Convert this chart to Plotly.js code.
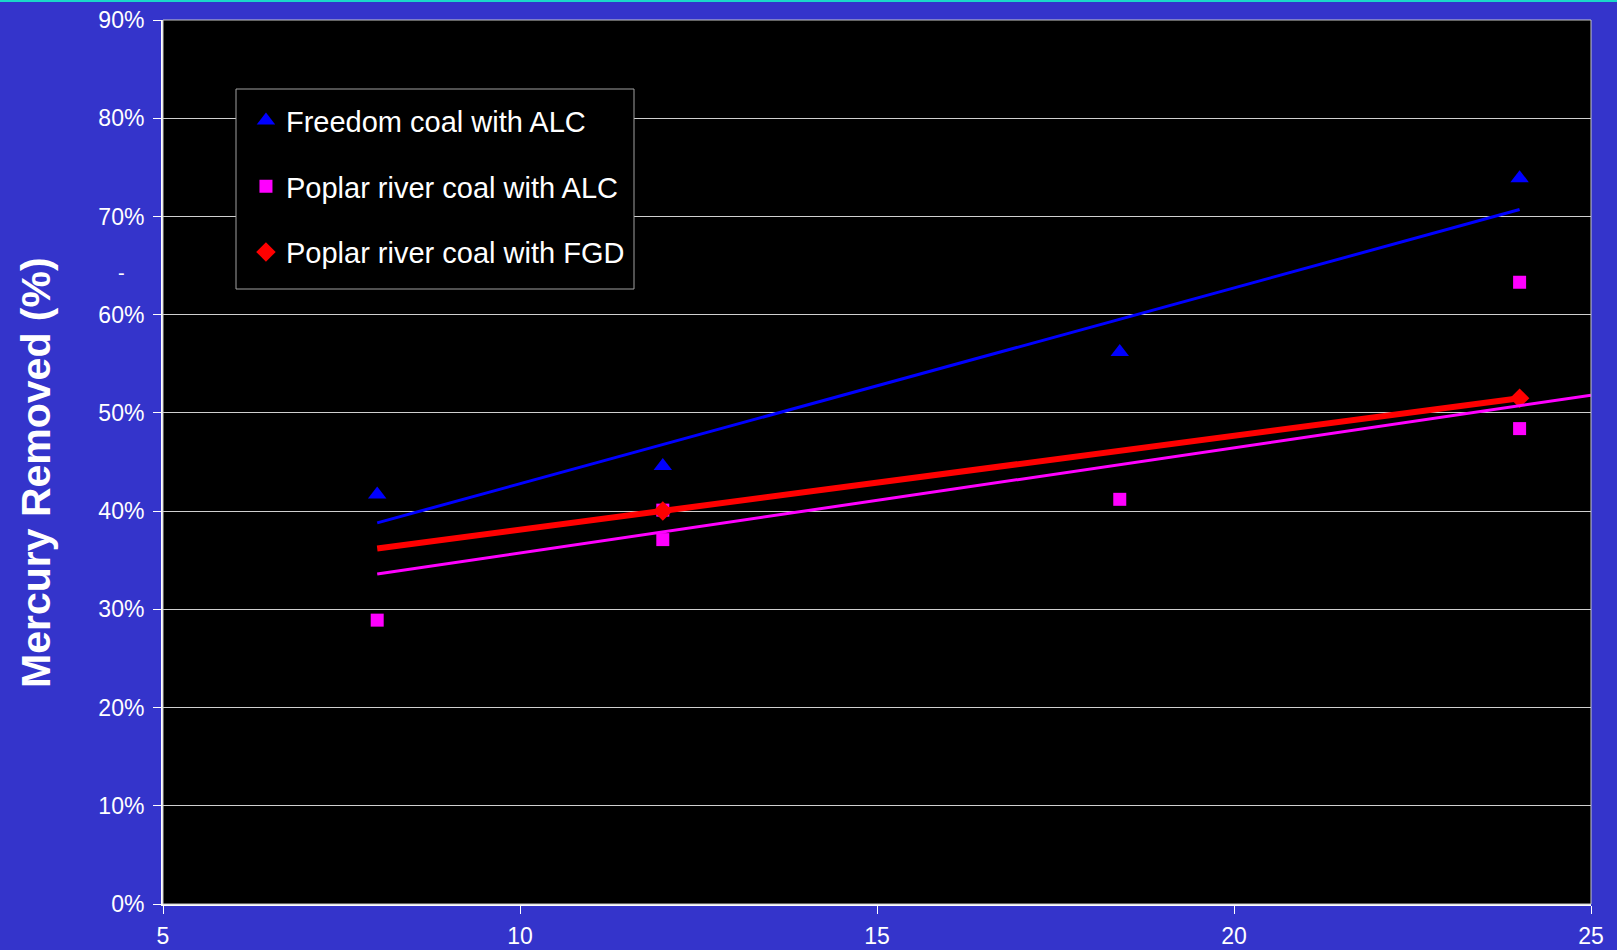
<!DOCTYPE html>
<html>
<head>
<meta charset="utf-8">
<script src="https://cdn.plot.ly/plotly-3.0.1.min.js"></script>
<style>
  html, body { margin: 0; padding: 0; background: #3434CB; }
  #chart { width: 1617px; height: 950px; }
</style>
</head>
<body>
<div id="chart"></div>
<script>
// ---- data ----
const seriesNames = ["Freedom coal with ALC", "Poplar river coal with ALC", "Poplar river coal with FGD"];

const freedomX = [8, 12, 18.4, 24];
const freedomY = [41.7, 44.6, 56.2, 73.9];

const poplarAlcX = [8, 12, 12, 18.4, 24, 24];
const poplarAlcY = [28.9, 37.1, 40.1, 41.2, 63.3, 48.4];

const poplarFgdX = [12, 24];
const poplarFgdY = [40.0, 51.5];

// linear trend lines (end points)
const freedomTrendX = [8, 24];
const freedomTrendY = [38.8, 70.7];
const poplarAlcTrendX = [8, 25];
const poplarAlcTrendY = [33.6, 51.8];
const poplarFgdTrendX = [8, 24];
const poplarFgdTrendY = [36.2, 51.5];

const yTickVals = [0, 10, 20, 30, 40, 50, 60, 70, 80, 90];
const xTickVals = [5, 10, 15, 20, 25];

const yTitle = "Mercury Removed (%)";

const FONT = "Liberation Sans, Arial, sans-serif";

const traces = [
  { x: poplarAlcX, y: poplarAlcY, mode: "markers", type: "scatter", name: seriesNames[1],
    legendgroup: "b", legendrank: 2,
    marker: { symbol: "square", size: 13, color: "#FF00FF", line: { width: 0 } } },
  { x: poplarFgdTrendX, y: poplarFgdTrendY, mode: "lines", type: "scatter", showlegend: false,
    line: { color: "#FF0000", width: 6 }, hoverinfo: "skip" },
  { x: poplarFgdX, y: poplarFgdY, mode: "markers", type: "scatter", name: seriesNames[2],
    legendgroup: "c", legendrank: 3,
    marker: { symbol: "diamond", size: 15, color: "#FF0000", line: { width: 0 } } },
  { x: poplarAlcTrendX, y: poplarAlcTrendY, mode: "lines", type: "scatter", showlegend: false,
    line: { color: "#FF00FF", width: 3 }, hoverinfo: "skip" },
  { x: freedomTrendX, y: freedomTrendY, mode: "lines", type: "scatter", showlegend: false,
    line: { color: "#0000FF", width: 3 }, hoverinfo: "skip" },
  { x: freedomX, y: freedomY, mode: "markers", type: "scatter", name: seriesNames[0],
    legendgroup: "a", legendrank: 1,
    marker: { symbol: "triangle-up", size: 16, color: "#0000FF", line: { width: 0 } } }
];

const layout = {
  width: 1617, height: 950,
  paper_bgcolor: "#3434CB",
  plot_bgcolor: "#000000",
  margin: { l: 163, r: 26, t: 20, b: 46, pad: 0 },
  font: { family: FONT, color: "#FFFFFF", size: 23 },
  showlegend: true,
  legend: {
    x: 0.0581, y: 0.915, xanchor: "left", yanchor: "top",
    bgcolor: "rgba(0,0,0,0)", borderwidth: 0,
    font: { family: FONT, size: 29, color: "#FFFFFF" },
    traceorder: "grouped", tracegroupgap: 25, itemwidth: 30,
    itemclick: false
  },
  xaxis: {
    range: [5, 25], tickvals: xTickVals, ticktext: xTickVals.map(String),
    showgrid: false, zeroline: false,
    showline: true, linecolor: "#FFFFFF", linewidth: 2,
    ticks: "outside", ticklen: 8, tickcolor: "#FFFFFF", tickwidth: 1,
    ticklabelstandoff: 2,
    tickfont: { family: FONT, size: 23, color: "#FFFFFF" }
  },
  yaxis: {
    range: [0, 90], tickvals: yTickVals, ticktext: yTickVals.map(v => v + "%"),
    showgrid: true, gridcolor: "#D0D0D0", gridwidth: 1, zeroline: false,
    showline: true, linecolor: "#FFFFFF", linewidth: 2,
    ticks: "outside", ticklen: 8, tickcolor: "#FFFFFF", tickwidth: 1,
    ticklabelstandoff: 4,
    tickfont: { family: FONT, size: 23, color: "#FFFFFF" },
    automargin: false
  },
  shapes: [
    { type: "rect", xref: "paper", yref: "paper", x0: 0, x1: 1, y0: 0, y1: 1,
      line: { color: "#C8C8C8", width: 1 }, fillcolor: "rgba(0,0,0,0)", layer: "above" },
    // legend box
    { type: "rect", xref: "paper", yref: "paper",
      x0: (236 - 163) / 1428, x1: (634 - 163) / 1428,
      y0: (904 - 289) / 884, y1: (904 - 89) / 884,
      line: { color: "#A0A0A0", width: 1 }, fillcolor: "#000000", layer: "above" },
    { type: "line", xref: "paper", yref: "paper", x0: -0.2, x1: 1.05, y0: 1.0215, y1: 1.0215,
      line: { color: "#1AD9C9", width: 2 } }
  ],
  annotations: [
    { text: "<b>" + yTitle + "</b>", xref: "paper", yref: "paper",
      x: -0.0889, y: 0.4876, xanchor: "center", yanchor: "middle", textangle: -90,
      showarrow: false, font: { family: FONT, size: 41, color: "#FFFFFF" } },
    { text: "-", xref: "paper", yref: "paper", x: -0.0329, y: 0.7285,
      showarrow: false, font: { family: FONT, size: 20, color: "#FFFFFF" } }
  ]
};

Plotly.newPlot("chart", traces, layout, { displayModeBar: false, staticPlot: true });
</script>
</body>
</html>
